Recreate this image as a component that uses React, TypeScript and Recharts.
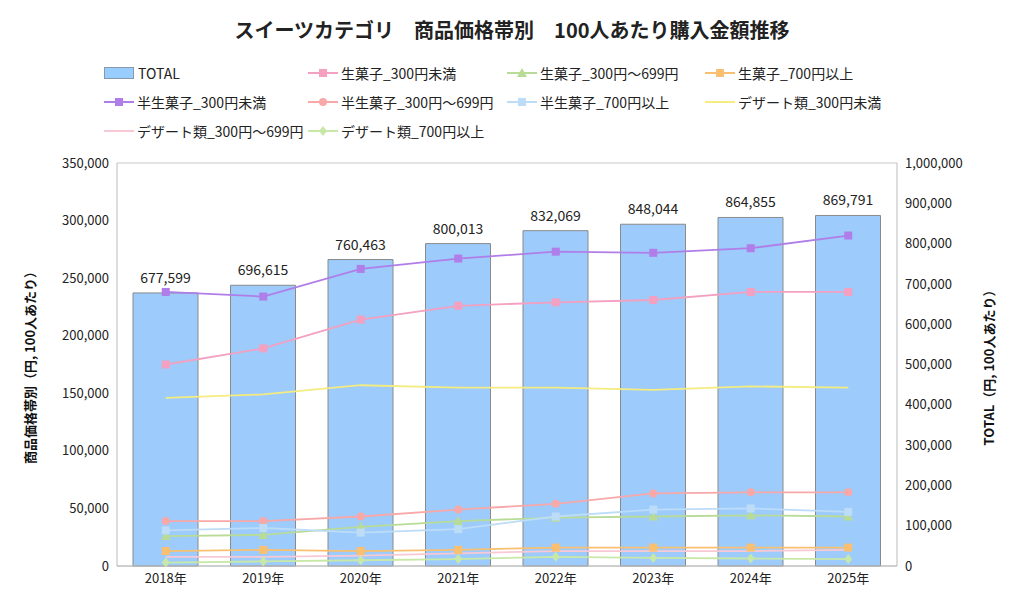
import { ComposedChart, Bar, Line, XAxis, YAxis, CartesianGrid, LabelList } from 'recharts';

const years = ['2018年', '2019年', '2020年', '2021年', '2022年', '2023年', '2024年', '2025年'];
const total = [677599, 696615, 760463, 800013, 832069, 848044, 864855, 869791];
const nama300 = [175000, 189000, 214000, 226000, 229000, 231000, 238000, 238000];
const nama699 = [26000, 27000, 34000, 39000, 42000, 43000, 44000, 43000];
const nama700 = [13000, 14000, 13000, 14000, 16000, 16000, 16000, 16000];
const han300 = [238000, 234000, 258000, 267000, 273000, 272000, 276000, 287000];
const han699 = [39000, 39000, 43000, 49000, 54000, 63000, 64000, 64000];
const han700 = [31000, 33000, 29000, 32000, 43000, 49000, 50000, 47000];
const des300 = [146000, 149000, 157000, 155000, 155000, 153000, 156000, 155000];
const des699 = [8000, 8000, 9000, 11000, 13000, 13000, 13000, 14000];
const des700 = [3000, 4000, 5000, 6000, 8000, 7000, 6500, 6000];
const leftTicks = [0, 50000, 100000, 150000, 200000, 250000, 300000, 350000];
const rightTicks = [0, 100000, 200000, 300000, 400000, 500000, 600000, 700000, 800000, 900000, 1000000];

const data = years.map((y, i) => ({
  year: y, total: total[i], nama300: nama300[i], nama699: nama699[i], nama700: nama700[i],
  han300: han300[i], han699: han699[i], han700: han700[i], des300: des300[i], des699: des699[i], des700: des700[i],
}));

type Shape = 'square' | 'triangle' | 'circle' | 'diamond' | 'none';
const series: { key: string; name: string; color: string; shape: Shape }[] = [
  { key: 'nama300', name: '生菓子_300円未満', color: '#f4a0c0', shape: 'square' },
  { key: 'nama699', name: '生菓子_300円〜699円', color: '#b8dc98', shape: 'triangle' },
  { key: 'nama700', name: '生菓子_700円以上', color: '#f8c070', shape: 'square' },
  { key: 'han300', name: '半生菓子_300円未満', color: '#b07ee8', shape: 'square' },
  { key: 'han699', name: '半生菓子_300円〜699円', color: '#f8a8a8', shape: 'circle' },
  { key: 'han700', name: '半生菓子_700円以上', color: '#bcdcf8', shape: 'square' },
  { key: 'des300', name: 'デザート類_300円未満', color: '#f4ec80', shape: 'none' },
  { key: 'des699', name: 'デザート類_300円〜699円', color: '#f8c8d4', shape: 'none' },
  { key: 'des700', name: 'デザート類_700円以上', color: '#c8e8a8', shape: 'diamond' },
];

const fmt = (v: number) => v.toLocaleString('en-US');

function makeDot(shape: Shape, color: string) {
  return (p: any) => {
    const { cx, cy, key } = p;
    if (cx == null || cy == null || shape === 'none') return <g key={key} />;
    const r = 4;
    if (shape === 'square') return <rect key={key} x={cx - r} y={cy - r} width={r * 2} height={r * 2} fill={color} />;
    if (shape === 'circle') return <circle key={key} cx={cx} cy={cy} r={r} fill={color} />;
    if (shape === 'triangle') return <polygon key={key} points={`${cx},${cy - r - 1} ${cx + r + 1},${cy + r} ${cx - r - 1},${cy + r}`} fill={color} />;
    return <polygon key={key} points={`${cx},${cy - r - 1} ${cx + r},${cy} ${cx},${cy + r + 1} ${cx - r},${cy}`} fill={color} />;
  };
}

function LegendIcon({ color, shape }: { color: string; shape: Shape }) {
  return (
    <svg width={30} height={12} style={{ marginRight: 3 }}>
      <line x1={0} y1={6} x2={30} y2={6} stroke={color} strokeWidth={2} />
      {shape !== 'none' && makeDot(shape, color)({ cx: 15, cy: 6, key: 'i' })}
    </svg>
  );
}

const legendCols = [104, 308, 507, 705];
const legendRows = [73, 102, 131];

export default function App() {
  const font = '"Noto Sans CJK JP", "Noto Sans", sans-serif';
  return (
    <div style={{ position: 'relative', width: 1024, height: 614, margin: '-8px 0 0 -8px', fontFamily: font, color: '#222' }}>
      <div style={{ position: 'absolute', top: 15, left: 0, width: 1024, textAlign: 'center', fontSize: 20, fontWeight: 'bold' }}>
        スイーツカテゴリ　商品価格帯別　100人あたり購入金額推移
      </div>
      <div style={{ position: 'absolute', left: legendCols[0], top: legendRows[0] - 10, display: 'flex', alignItems: 'center', fontSize: 14 }}>
        <div style={{ width: 28, height: 10, background: '#99ccff', border: '1px solid #8899aa', marginRight: 4 }} />TOTAL
      </div>
      {series.map((s, i) => {
        const slot = i + 1;
        return (
          <div key={s.key} style={{ position: 'absolute', left: legendCols[slot % 4], top: legendRows[Math.floor(slot / 4)] - 10, display: 'flex', alignItems: 'center', fontSize: 14, whiteSpace: 'nowrap' }}>
            <LegendIcon color={s.color} shape={s.shape} />{s.name}
          </div>
        );
      })}
      <div style={{ position: 'absolute', top: 0, left: 0 }}>
        <ComposedChart width={1024} height={614} data={data} margin={{ top: 163, right: 37, bottom: 18, left: 0 }}>
          <CartesianGrid vertical={false} stroke="#c8c8c8" />
          <XAxis dataKey="year" tickLine={false} axisLine={{ stroke: '#bbb' }} tick={{ fill: '#222', fontSize: 13 }} />
          <YAxis yAxisId="left" width={117} domain={[0, 350000]} ticks={leftTicks} tickFormatter={fmt} tickLine={false} axisLine={{ stroke: '#bbb' }} tick={{ fill: '#222', fontSize: 13 }}
            label={{ value: '商品価格帯別（円, 100人あたり）', angle: -90, position: 'insideLeft', offset: 30, style: { fontSize: 13, fontWeight: 'bold', fill: '#111', textAnchor: 'middle' } }} />
          <YAxis yAxisId="right" orientation="right" width={90} domain={[0, 1000000]} ticks={rightTicks} tickFormatter={fmt} tickLine={false} axisLine={{ stroke: '#bbb' }} tick={{ fill: '#222', fontSize: 13 }}
            label={{ value: 'TOTAL（円, 100人あたり）', angle: -90, position: 'insideRight', offset: -2, style: { fontSize: 13, fontWeight: 'bold', fill: '#111', textAnchor: 'middle' } }} />
          <Bar yAxisId="right" dataKey="total" fill="#9ccbfc" stroke="#8a8a8a" barSize={65} isAnimationActive={false}>
            <LabelList dataKey="total" position="top" formatter={(v: any) => fmt(Number(v))} style={{ fontSize: 14, fill: '#222' }} offset={10} />
          </Bar>
          {series.map((s) => (
            <Line key={s.key} yAxisId="left" type="linear" dataKey={s.key} stroke={s.color} strokeWidth={1.8} dot={makeDot(s.shape, s.color)} activeDot={false} isAnimationActive={false} />
          ))}
        </ComposedChart>
      </div>
    </div>
  );
}
